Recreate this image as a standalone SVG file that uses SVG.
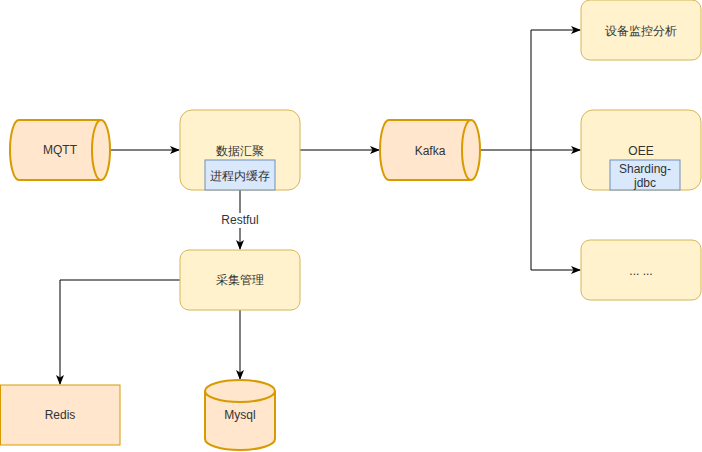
<svg xmlns="http://www.w3.org/2000/svg" width="702" height="452" viewBox="0 0 702 452">
<style>
text{font-family:"Liberation Sans",Arial,sans-serif;font-size:12px;fill:#333;text-anchor:middle;dominant-baseline:central}
.y{fill:#fff2cc;stroke:#d6b656;stroke-width:1}
.o{fill:#ffe6cc;stroke:#d79b00;stroke-width:2}
.o1{fill:#ffe6cc;stroke:#d79b00;stroke-width:1}
.b{fill:#dae8fc;stroke:#6c8ebf;stroke-width:1}
.c{fill:none;stroke:#000;stroke-width:1}
</style>
<defs>
<marker id="a" markerWidth="10" markerHeight="8" refX="9" refY="4" orient="auto" markerUnits="userSpaceOnUse">
<path d="M0,0 L10,4 L0,8 L2.5,4 Z" fill="#000"/>
</marker>
</defs>
<g id="connectors">
<path class="c" d="M110,150 H179" marker-end="url(#a)"/>
<path class="c" d="M300,150 H379" marker-end="url(#a)"/>
<path class="c" d="M480,150 H580" marker-end="url(#a)"/>
<path class="c" d="M531,150 V30 H580" marker-end="url(#a)"/>
<path class="c" d="M531,150 V270 H580" marker-end="url(#a)"/>
<path class="c" d="M240,190 V249" marker-end="url(#a)"/>
<path class="c" d="M180,280 H60 V384" marker-end="url(#a)"/>
<path class="c" d="M240,310 V379" marker-end="url(#a)"/>
<rect x="219" y="213" width="42" height="15" fill="#fff"/>
<text x="240" y="220" font-size="11">Restful</text>
</g>
<g id="mqtt">
<path class="o" d="M19,120 H101 A9,30 0 0 1 101,180 H19 A9,30 0 0 1 19,120 Z"/>
<path class="o" d="M101,120 A9,30 0 0 0 101,180"/>
<text x="60" y="150">MQTT</text>
</g>
<g id="shuju">
<rect class="y" x="180" y="110" width="120" height="80" rx="12"/>
<text x="240" y="151">数据汇聚</text>
</g>
<g id="cache">
<rect class="b" x="205" y="160" width="70" height="30"/>
<text x="240" y="176">进程内缓存</text>
</g>
<g id="kafka">
<path class="o" d="M389,120 H471 A9,30 0 0 1 471,180 H389 A9,30 0 0 1 389,120 Z"/>
<path class="o" d="M471,120 A9,30 0 0 0 471,180"/>
<text x="430" y="151">Kafka</text>
</g>
<g id="jiankong">
<rect class="y" x="581" y="0" width="120" height="60" rx="9"/>
<text x="641" y="31">设备监控分析</text>
</g>
<g id="oee">
<rect class="y" x="581" y="110" width="120" height="80" rx="12"/>
<text x="641" y="151">OEE</text>
</g>
<g id="sharding">
<rect class="b" x="610" y="160" width="70" height="30"/>
<text x="645" y="169">Sharding-</text>
<text x="645" y="183">jdbc</text>
</g>
<g id="more">
<rect class="y" x="581" y="240" width="120" height="60" rx="9"/>
<text x="641" y="271">... ...</text>
</g>
<g id="caiji">
<rect class="y" x="180" y="250" width="120" height="60" rx="9"/>
<text x="240" y="280">采集管理</text>
</g>
<g id="redis">
<rect class="o1" x="0.5" y="385" width="119.5" height="60"/>
<text x="60" y="415">Redis</text>
</g>
<g id="mysql">
<path class="o" d="M205,391 A35,11 0 0 1 275,391 V439 A35,11 0 0 1 205,439 Z"/>
<path class="o" d="M205,391 A35,11 0 0 0 275,391"/>
<text x="240" y="415">Mysql</text>
</g>
</svg>
